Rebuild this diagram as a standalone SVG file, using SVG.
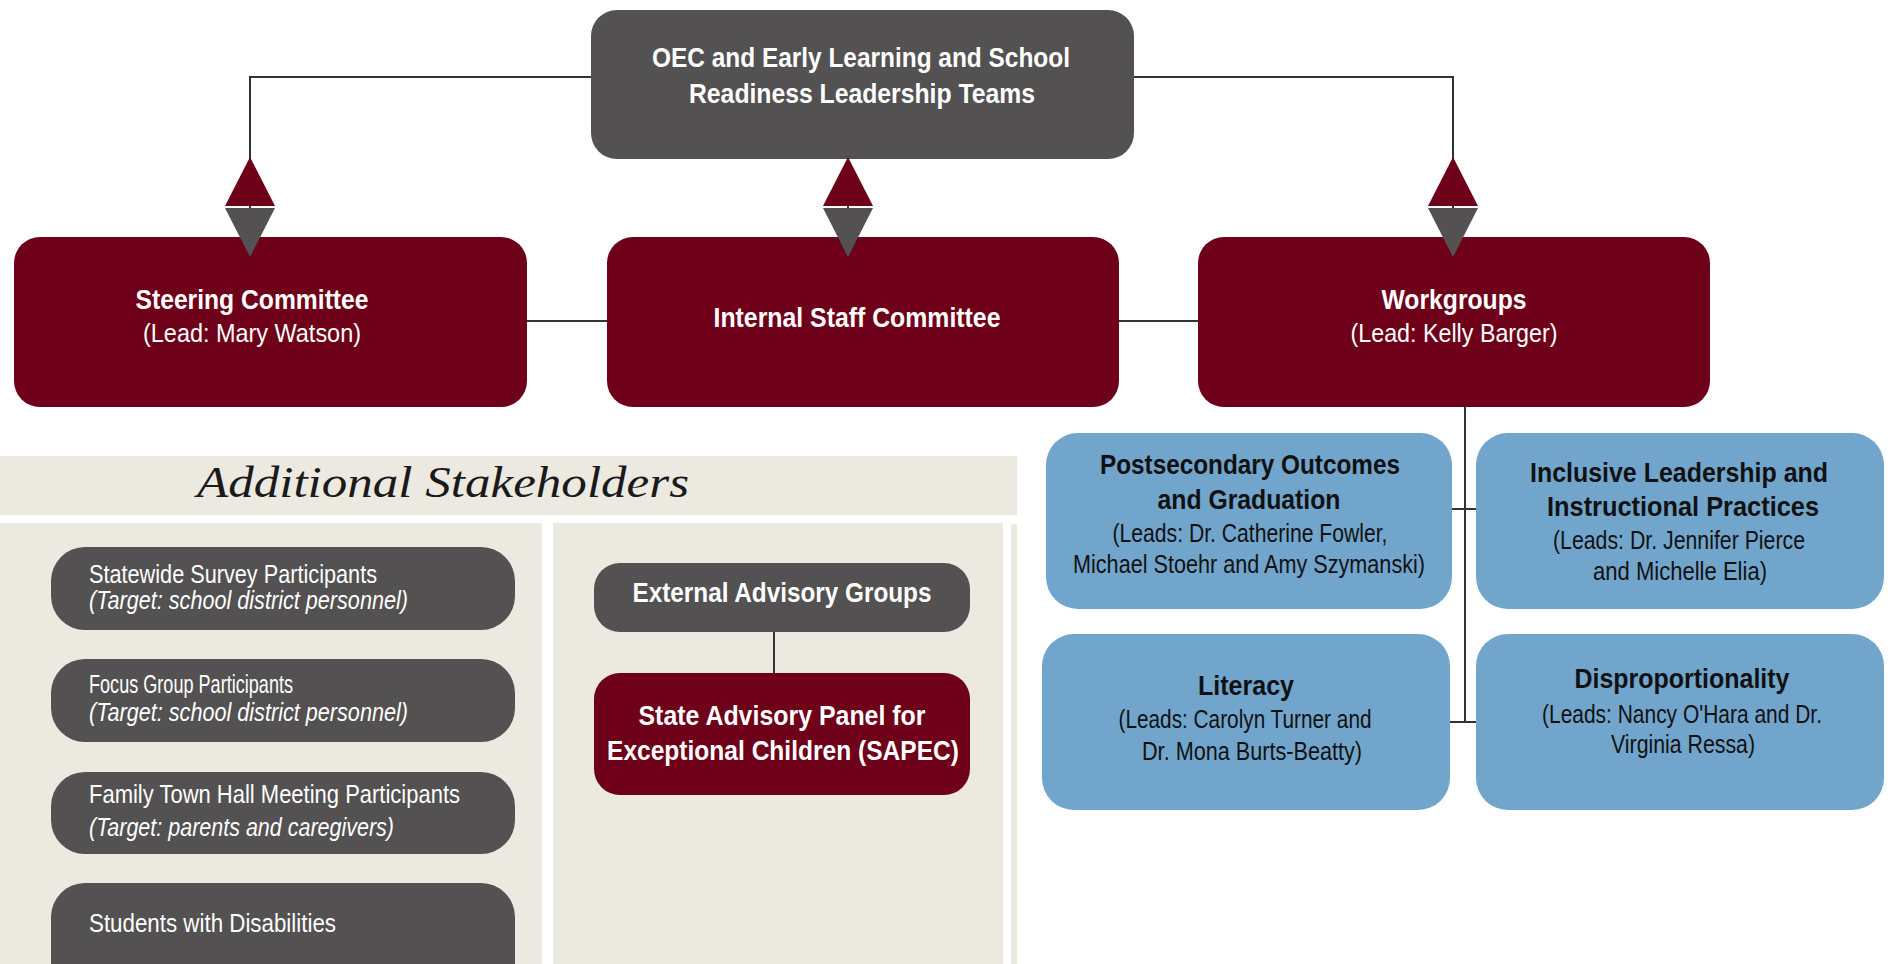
<svg xmlns="http://www.w3.org/2000/svg" width="1891" height="964" viewBox="0 0 1891 964">
<style>
text{font-family:"Liberation Sans Narrow","Liberation Sans",Arial,sans-serif;}
.b{font-weight:bold;font-size:28px;}
.r{font-size:26px;}
.w{fill:#ffffff;}
.k{fill:#111111;}
.it{font-style:italic;}
.red{fill:#6E0019;}
.gray{fill:#535152;}
.blue{fill:#71A5CC;}
.beige{fill:#ECE9E1;}
.ln{stroke:#333333;stroke-width:2;fill:none;}
</style>
<rect width="1891" height="964" fill="#ffffff"/>
<g id="panels">
<rect class="beige" x="0" y="456" width="1017" height="59"/>
<rect class="beige" x="0" y="523" width="542" height="441"/>
<rect class="beige" x="553" y="523" width="450" height="441"/>
<rect class="beige" x="1011" y="524" width="6" height="440"/>
<text x="197" y="497" textLength="492" lengthAdjust="spacingAndGlyphs" style="font-family:'Liberation Serif',serif;font-style:italic;font-size:44px;" fill="#1a1a1a">Additional Stakeholders</text>
</g>
<g id="connectors-lines">
<path class="ln" d="M591 77 H250 V240"/>
<path class="ln" d="M1134 77 H1453 V240"/>
<path class="ln" d="M848 159 V240"/>
<path class="ln" d="M527 321 H607"/>
<path class="ln" d="M1119 321 H1198"/>
<path class="ln" d="M1465 407 V722"/>
<path class="ln" d="M1452 509 H1477"/>
<path class="ln" d="M1448 722 H1477"/>
<path class="ln" d="M774 632 V673"/>
</g>
<g id="oec">
<rect class="gray" x="591" y="10" width="543" height="149" rx="26"/>
<text class="b w" x="861" y="67" text-anchor="middle" textLength="418" lengthAdjust="spacingAndGlyphs">OEC and Early Learning and School</text>
<text class="b w" x="862" y="103" text-anchor="middle" textLength="346" lengthAdjust="spacingAndGlyphs">Readiness Leadership Teams</text>
</g>
<g id="steering">
<rect class="red" x="14" y="237" width="513" height="170" rx="26"/>
<text class="b w" x="252" y="309" text-anchor="middle" textLength="233" lengthAdjust="spacingAndGlyphs">Steering Committee</text>
<text class="r w" x="252" y="342" text-anchor="middle" textLength="218" lengthAdjust="spacingAndGlyphs">(Lead: Mary Watson)</text>
</g>
<g id="internal">
<rect class="red" x="607" y="237" width="512" height="170" rx="26"/>
<text class="b w" x="857" y="327" text-anchor="middle" textLength="287" lengthAdjust="spacingAndGlyphs">Internal Staff Committee</text>
</g>
<g id="workgroups">
<rect class="red" x="1198" y="237" width="512" height="170" rx="26"/>
<text class="b w" x="1454" y="309" text-anchor="middle" textLength="145" lengthAdjust="spacingAndGlyphs">Workgroups</text>
<text class="r w" x="1454" y="342" text-anchor="middle" textLength="207" lengthAdjust="spacingAndGlyphs">(Lead: Kelly Barger)</text>
</g>
<g id="postsecondary">
<rect class="blue" x="1046" y="433" width="406" height="176" rx="32"/>
<text class="b k" x="1250" y="474" text-anchor="middle" textLength="300" lengthAdjust="spacingAndGlyphs">Postsecondary Outcomes</text>
<text class="b k" x="1249" y="509" text-anchor="middle" textLength="183" lengthAdjust="spacingAndGlyphs">and Graduation</text>
<text class="r k" x="1250" y="542" text-anchor="middle" textLength="275" lengthAdjust="spacingAndGlyphs">(Leads: Dr. Catherine Fowler,</text>
<text class="r k" x="1249" y="573" text-anchor="middle" textLength="352" lengthAdjust="spacingAndGlyphs">Michael Stoehr and Amy Szymanski)</text>
</g>
<g id="inclusive">
<rect class="blue" x="1476" y="433" width="408" height="176" rx="32"/>
<text class="b k" x="1679" y="482" text-anchor="middle" textLength="298" lengthAdjust="spacingAndGlyphs">Inclusive Leadership and</text>
<text class="b k" x="1683" y="516" text-anchor="middle" textLength="272" lengthAdjust="spacingAndGlyphs">Instructional Practices</text>
<text class="r k" x="1679" y="549" text-anchor="middle" textLength="252" lengthAdjust="spacingAndGlyphs">(Leads: Dr. Jennifer Pierce</text>
<text class="r k" x="1680" y="580" text-anchor="middle" textLength="174" lengthAdjust="spacingAndGlyphs">and Michelle Elia)</text>
</g>
<g id="literacy">
<rect class="blue" x="1042" y="634" width="408" height="176" rx="32"/>
<text class="b k" x="1246" y="695" text-anchor="middle" textLength="96" lengthAdjust="spacingAndGlyphs">Literacy</text>
<text class="r k" x="1245" y="728" text-anchor="middle" textLength="253" lengthAdjust="spacingAndGlyphs">(Leads: Carolyn Turner and</text>
<text class="r k" x="1252" y="760" text-anchor="middle" textLength="220" lengthAdjust="spacingAndGlyphs">Dr. Mona Burts-Beatty)</text>
</g>
<g id="disproportionality">
<rect class="blue" x="1476" y="634" width="408" height="176" rx="32"/>
<text class="b k" x="1682" y="688" text-anchor="middle" textLength="215" lengthAdjust="spacingAndGlyphs">Disproportionality</text>
<text class="r k" x="1682" y="723" text-anchor="middle" textLength="280" lengthAdjust="spacingAndGlyphs">(Leads: Nancy O'Hara and Dr.</text>
<text class="r k" x="1683" y="753" text-anchor="middle" textLength="144" lengthAdjust="spacingAndGlyphs">Virginia Ressa)</text>
</g>
<g id="statewide">
<rect class="gray" x="51" y="547" width="464" height="83" rx="34"/>
<text class="r w" x="89" y="583" textLength="288" lengthAdjust="spacingAndGlyphs">Statewide Survey Participants</text>
<text class="r w it" x="89" y="609" textLength="319" lengthAdjust="spacingAndGlyphs">(Target: school district personnel)</text>
</g>
<g id="focus">
<rect class="gray" x="51" y="659" width="464" height="83" rx="34"/>
<text class="r w" x="89" y="693" textLength="204" lengthAdjust="spacingAndGlyphs">Focus Group Participants</text>
<text class="r w it" x="89" y="721" textLength="319" lengthAdjust="spacingAndGlyphs">(Target: school district personnel)</text>
</g>
<g id="family">
<rect class="gray" x="51" y="772" width="464" height="82" rx="34"/>
<text class="r w" x="89" y="803" textLength="371" lengthAdjust="spacingAndGlyphs">Family Town Hall Meeting Participants</text>
<text class="r w it" x="89" y="836" textLength="305" lengthAdjust="spacingAndGlyphs">(Target: parents and caregivers)</text>
</g>
<g id="students">
<rect class="gray" x="51" y="883" width="464" height="120" rx="34"/>
<text class="r w" x="89" y="932" textLength="247" lengthAdjust="spacingAndGlyphs">Students with Disabilities</text>
</g>
<g id="external">
<rect class="gray" x="594" y="563" width="376" height="69" rx="26"/>
<text class="b w" x="782" y="602" text-anchor="middle" textLength="299" lengthAdjust="spacingAndGlyphs">External Advisory Groups</text>
</g>
<g id="sapec">
<rect class="red" x="594" y="673" width="376" height="122" rx="26"/>
<text class="b w" x="782" y="725" text-anchor="middle" textLength="287" lengthAdjust="spacingAndGlyphs">State Advisory Panel for</text>
<text class="b w" x="783" y="760" text-anchor="middle" textLength="352" lengthAdjust="spacingAndGlyphs">Exceptional Children (SAPEC)</text>
</g>
<g id="connectors-arrowheads">
<polygon class="red" points="250,157 275,206 225,206"/>
<polygon class="gray" points="225,208 275,208 250,257"/>
<polygon class="red" points="848,157 873,206 823,206"/>
<polygon class="gray" points="823,208 873,208 848,257"/>
<polygon class="red" points="1453,157 1478,206 1428,206"/>
<polygon class="gray" points="1428,208 1478,208 1453,257"/>
</g>
</svg>
